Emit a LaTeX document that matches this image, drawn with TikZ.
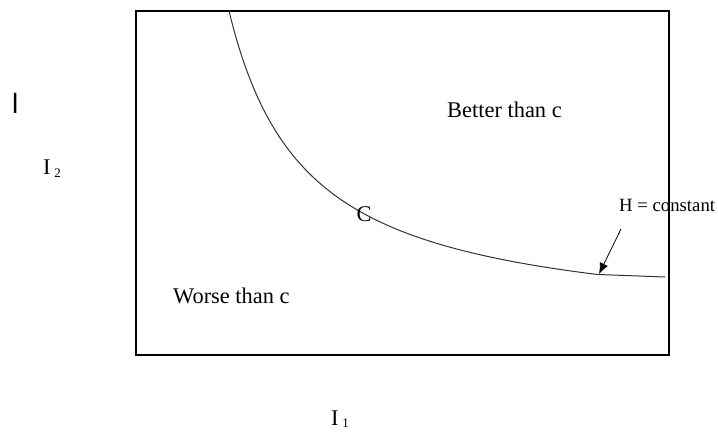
\documentclass[tikz,border=0pt]{standalone}
\usepackage{fontspec}
\usetikzlibrary{arrows.meta}
\setmainfont{Liberation Serif}
\newfontfamily\barfont{Liberation Sans}
\begin{document}
\begin{tikzpicture}[x=1bp,y=-1bp,
  lbl/.style={inner sep=0pt,font=\fontsize{22.5}{24}\selectfont},
  curve/.style={line width=1bp,black!80}]
\useasboundingbox (0,0) rectangle (718,431);
\draw[line width=2bp] (136,11) rectangle (669,355);
\coordinate (cend) at (665,277);
\draw[curve] plot[domain=229:597,samples=80,smooth] (\x,{329.7-2460.7/(0.1*(\x-151.8))}) -- (cend);
\node[lbl,anchor=base] (c) at (364,221) {C};
\node[lbl,anchor=base west] (better) at (447,117) {Better than c};
\node[lbl,anchor=base west] (worse) at (173,303) {Worse than c};
\node[inner sep=0pt,anchor=base west,font=\fontsize{18.8}{22}\selectfont] (h) at (619,211) {H = constant};
\coordinate (hfrom) at (621,229);
\coordinate (hto) at (599,274);
\draw[line width=0.8bp,-{Latex[length=11bp,width=9bp]}] (hfrom) -- (hto);
\node[lbl,anchor=base west] (i2) at (43,174) {I\,\raisebox{-3bp}{\fontsize{13}{14}\selectfont 2}};
\node[lbl,anchor=base west] (i1) at (331,425) {I\,\raisebox{-2bp}{\fontsize{13}{14}\selectfont 1}};
\node[inner sep=0pt,anchor=base west,font=\barfont\fontsize{28}{30}\selectfont] (bar) at (12,113) {l};
\end{tikzpicture}
\end{document}
